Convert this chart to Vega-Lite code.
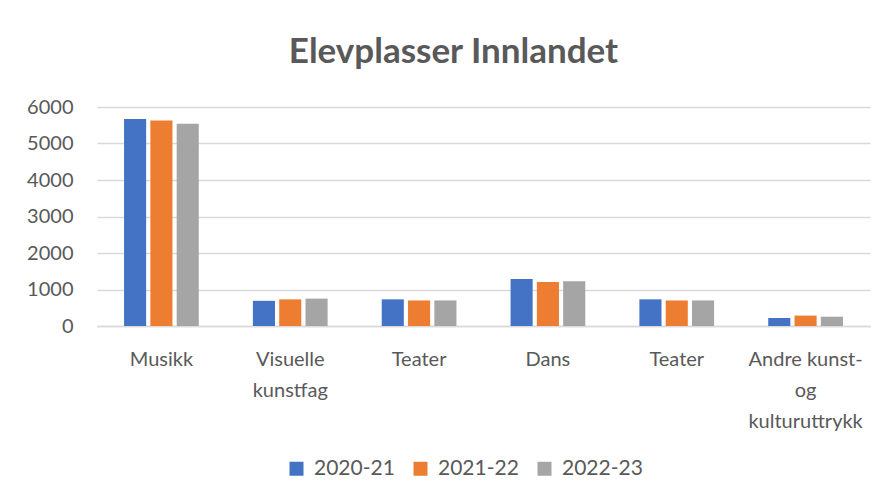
{
  "$schema": "https://vega.github.io/schema/vega-lite/v6.json",
  "width": 773,
  "height": 219,
  "autosize": {"type": "none"},
  "padding": {"left": 97, "top": 107, "right": 15, "bottom": 177},
  "background": "white",
  "title": {
    "text": "Elevplasser Innlandet",
    "font": "Lato",
    "fontSize": 35,
    "fontWeight": "bold",
    "color": "#595959",
    "anchor": "middle",
    "dx": -30,
    "offset": 27
  },
  "data": {
    "values": [
      {"kat": "Musikk", "aar": "2020-21", "antall": 5670},
      {"kat": "Musikk", "aar": "2021-22", "antall": 5630},
      {"kat": "Musikk", "aar": "2022-23", "antall": 5540},
      {"kat": "Visuelle kunstfag", "aar": "2020-21", "antall": 690},
      {"kat": "Visuelle kunstfag", "aar": "2021-22", "antall": 730},
      {"kat": "Visuelle kunstfag", "aar": "2022-23", "antall": 750},
      {"kat": "Teater (1)", "aar": "2020-21", "antall": 730},
      {"kat": "Teater (1)", "aar": "2021-22", "antall": 700},
      {"kat": "Teater (1)", "aar": "2022-23", "antall": 700},
      {"kat": "Dans", "aar": "2020-21", "antall": 1290},
      {"kat": "Dans", "aar": "2021-22", "antall": 1205},
      {"kat": "Dans", "aar": "2022-23", "antall": 1225},
      {"kat": "Teater (2)", "aar": "2020-21", "antall": 730},
      {"kat": "Teater (2)", "aar": "2021-22", "antall": 700},
      {"kat": "Teater (2)", "aar": "2022-23", "antall": 700},
      {"kat": "Andre kunst- og kulturuttrykk", "aar": "2020-21", "antall": 220},
      {"kat": "Andre kunst- og kulturuttrykk", "aar": "2021-22", "antall": 285},
      {"kat": "Andre kunst- og kulturuttrykk", "aar": "2022-23", "antall": 255}
    ]
  },
  "mark": {"type": "bar"},
  "encoding": {
    "x": {
      "field": "kat",
      "type": "nominal",
      "sort": ["Musikk", "Visuelle kunstfag", "Teater (1)", "Dans", "Teater (2)", "Andre kunst- og kulturuttrykk"],
      "scale": {"paddingInner": 0.42, "paddingOuter": 0.21},
      "axis": {
        "title": null,
        "labelAngle": 0,
        "labelExpr": "datum.value == 'Visuelle kunstfag' ? ['Visuelle', 'kunstfag'] : datum.value == 'Andre kunst- og kulturuttrykk' ? ['Andre kunst-', 'og', 'kulturuttrykk'] : indexof(datum.value, 'Teater') == 0 ? 'Teater' : datum.value",
        "labelFont": "Lato",
        "labelFontSize": 20,
        "labelColor": "#595959",
        "labelLineHeight": 31,
        "labelPadding": 23,
        "ticks": false,
        "domainColor": "#D9D9D9",
        "domainWidth": 1.5,
        "labelLimit": 200
      }
    },
    "xOffset": {
      "field": "aar",
      "type": "nominal",
      "scale": {"paddingInner": 0.16}
    },
    "y": {
      "field": "antall",
      "type": "quantitative",
      "scale": {"domain": [0, 6000], "nice": false},
      "axis": {
        "title": null,
        "values": [0, 1000, 2000, 3000, 4000, 5000, 6000],
        "format": "d",
        "domain": false,
        "ticks": false,
        "labelFont": "Lato",
        "labelFontSize": 20,
        "labelColor": "#595959",
        "labelPadding": 24,
        "gridColor": "#D9D9D9",
        "gridWidth": 1.5
      }
    },
    "color": {
      "field": "aar",
      "type": "nominal",
      "scale": {"domain": ["2020-21", "2021-22", "2022-23"], "range": ["#4472C4", "#ED7D31", "#A5A5A5"]},
      "legend": {
        "title": null,
        "orient": "none",
        "legendX": 189,
        "legendY": 351,
        "direction": "horizontal",
        "symbolType": "square",
        "symbolSize": 196,
        "symbolStrokeWidth": 0,
        "labelFont": "Lato",
        "labelFontSize": 21,
        "labelColor": "#595959",
        "labelOffset": 7,
        "columnPadding": 15
      }
    }
  },
  "config": {
    "view": {"stroke": null}
  }
}
